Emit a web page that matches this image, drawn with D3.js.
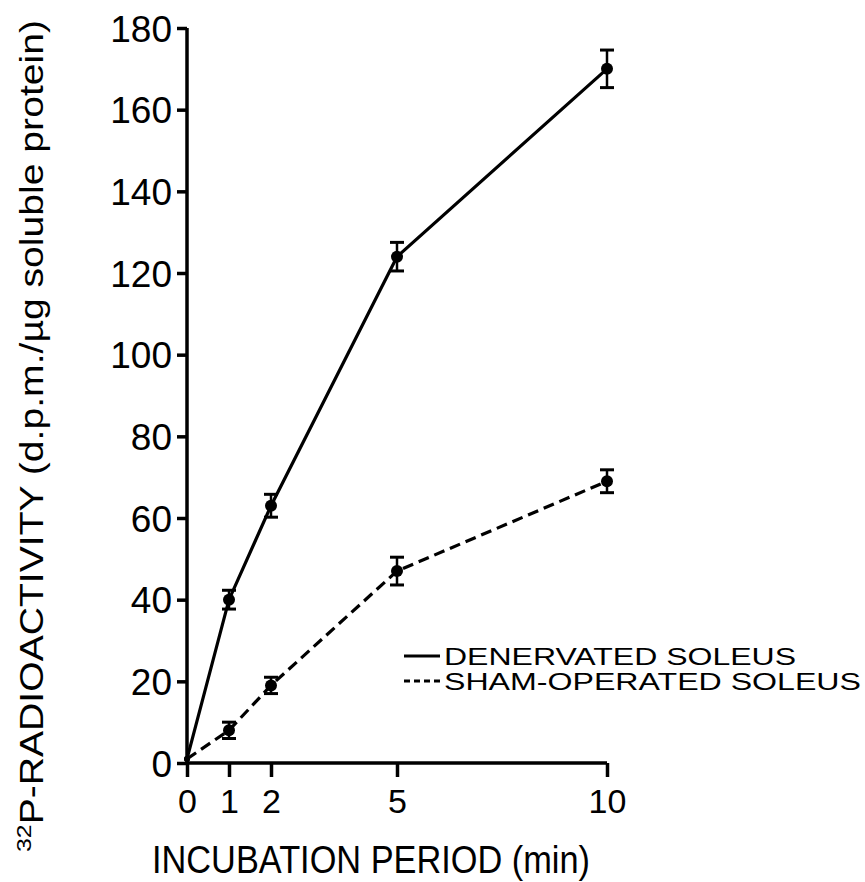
<!DOCTYPE html>
<html>
<head>
<meta charset="utf-8">
<script src="https://cdn.jsdelivr.net/npm/d3@7"></script>
<style>
  body { margin: 0; background: #fff; }
  svg { display: block; }
</style>
</head>
<body>
<svg id="chart" width="865" height="882"></svg>
<script>
const times = [0, 1, 2, 5, 10];
const denervated = [1, 40, 63, 124, 170];
const denervatedErr = [0, 2.3, 2.8, 3.5, 4.6];
const sham = [1, 8, 19, 47, 69];
const shamErr = [0, 2, 2, 3.4, 2.8];

const xTicks = [0, 1, 2, 5, 10];
const yTicks = [0, 20, 40, 60, 80, 100, 120, 140, 160, 180];

const legendLabels = ["DENERVATED SOLEUS", "SHAM-OPERATED SOLEUS"];

const ink = "#000";
const font = '"Liberation Sans", Arial, sans-serif';

const svg = d3.select("#chart");

const x = d3.scaleLinear().domain([0, 10]).range([187, 607]);
const y = d3.scaleLinear().domain([0, 180]).range([763, 28]);

// y axis
const yAxis = svg
  .append("g")
  .attr("transform", `translate(${x(0)},0)`)
  .call(d3.axisLeft(y).tickValues(yTicks).tickSize(10).tickSizeOuter(0).tickPadding(5));

yAxis.select(".domain").attr("stroke-width", 3.5).attr("d", `M0,${y(0)}V${y(180)}`);
yAxis.selectAll(".tick line").attr("stroke-width", 3.5);
yAxis
  .selectAll(".tick text")
  .attr("fill", ink)
  .attr("font-size", "37px")
  .attr("font-family", font)
  .attr("dy", "0.36em");

// x axis
const xAxis = svg
  .append("g")
  .attr("transform", `translate(0,${y(0)})`)
  .call(d3.axisBottom(x).tickValues(xTicks).tickSize(14).tickSizeOuter(0).tickPadding(12));

xAxis.select(".domain").attr("stroke-width", 3.5).attr("d", `M${x(0)},0H${x(10)}`);
xAxis.selectAll(".tick line").attr("stroke-width", 3.5);
xAxis
  .selectAll(".tick text")
  .attr("fill", ink)
  .attr("font-size", "34px")
  .attr("font-family", font);

// axis titles
svg
  .append("text")
  .attr("x", 152)
  .attr("y", 873)
  .attr("font-size", "38px")
  .attr("font-family", font)
  .attr("textLength", 438)
  .attr("lengthAdjust", "spacingAndGlyphs")
  .attr("fill", ink)
  .text("INCUBATION PERIOD (min)");

const yTitle = svg
  .append("text")
  .attr("transform", "translate(43,852) rotate(-90)")
  .attr("font-size", "33px")
  .attr("font-family", font)
  .attr("textLength", 832)
  .attr("lengthAdjust", "spacingAndGlyphs")
  .attr("fill", ink);

yTitle.append("tspan").attr("font-size", "21px").attr("dy", "-12").text("32");
yTitle.append("tspan").attr("dy", "12").text("P-RADIOACTIVITY (d.p.m./\u00b5g soluble protein)");

// series
const series = [
  { values: denervated, errs: denervatedErr, dash: null },
  { values: sham, errs: shamErr, dash: "11,6" }
];

const line = d3
  .line()
  .x(d => x(d[0]))
  .y(d => y(d[1]));

series.forEach(s => {
  const pts = times.map((t, i) => [t, s.values[i], s.errs[i]]);

  svg
    .append("path")
    .datum(pts)
    .attr("d", line)
    .attr("fill", "none")
    .attr("stroke", ink)
    .attr("stroke-width", 3.2)
    .attr("stroke-dasharray", s.dash);

  const bars = svg
    .append("g")
    .selectAll("g")
    .data(pts.filter(d => d[2] > 0))
    .enter()
    .append("g");

  bars
    .append("line")
    .attr("x1", d => x(d[0]))
    .attr("x2", d => x(d[0]))
    .attr("y1", d => y(d[1] - d[2]))
    .attr("y2", d => y(d[1] + d[2]))
    .attr("stroke", ink)
    .attr("stroke-width", 2.5);

  [-1, 1].forEach(sign => {
    bars
      .append("line")
      .attr("x1", d => x(d[0]) - 7)
      .attr("x2", d => x(d[0]) + 7)
      .attr("y1", d => y(d[1] + sign * d[2]))
      .attr("y2", d => y(d[1] + sign * d[2]))
      .attr("stroke", ink)
      .attr("stroke-width", 3);
  });

  svg
    .append("g")
    .selectAll("circle")
    .data(pts)
    .enter()
    .append("circle")
    .attr("cx", d => x(d[0]))
    .attr("cy", d => y(d[1]))
    .attr("r", d => (d[0] === 0 ? 3 : 6))
    .attr("fill", ink);
});

// legend
const legend = svg
  .append("g")
  .selectAll("g")
  .data(legendLabels)
  .enter()
  .append("g")
  .attr("transform", (d, i) => `translate(404,${656 + i * 25})`);

legend
  .append("line")
  .attr("x1", 0)
  .attr("x2", 36)
  .attr("stroke", ink)
  .attr("stroke-width", 3)
  .attr("stroke-dasharray", (d, i) => (i === 1 ? "6,4" : null));

legend
  .append("text")
  .attr("x", 40)
  .attr("y", 9)
  .attr("font-size", "24px")
  .attr("font-family", font)
  .attr("textLength", (d, i) => (i === 0 ? 352 : 417))
  .attr("lengthAdjust", "spacingAndGlyphs")
  .attr("fill", ink)
  .text(d => d);
</script>
</body>
</html>
